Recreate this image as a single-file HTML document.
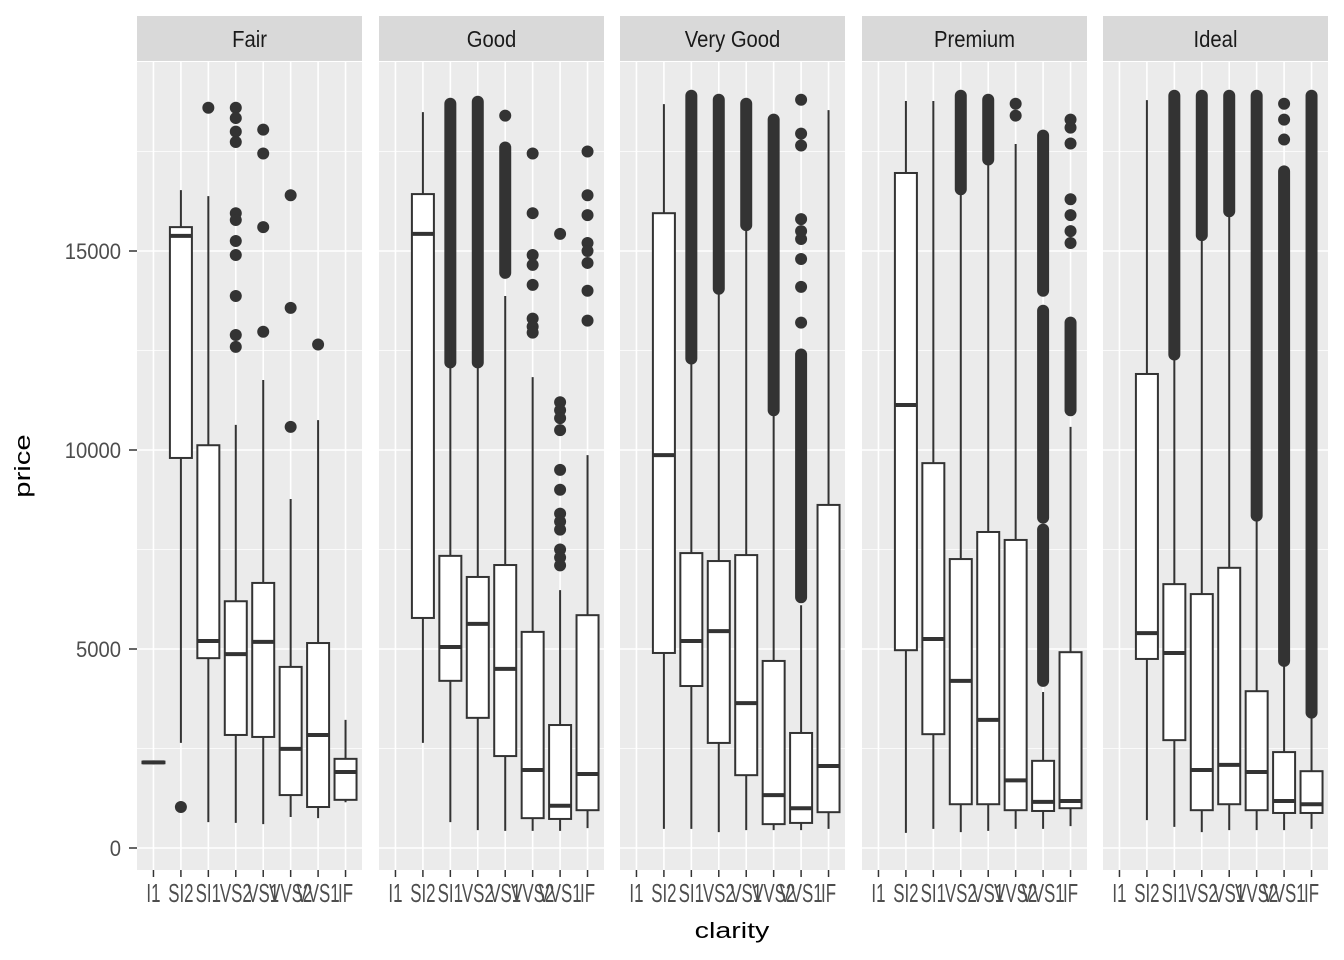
<!DOCTYPE html>
<html><head><meta charset="utf-8"><style>
html,body{margin:0;padding:0;background:#fff;}
svg{display:block;font-family:"Liberation Sans",sans-serif;}
</style></head><body>
<svg id="chart" width="1344" height="960">
<text transform="translate(732,938) scale(1.3,1)" text-anchor="middle" font-size="22" fill="#000">clarity</text>
<text transform="translate(30,466) rotate(-90) scale(1.33,1)" text-anchor="middle" font-size="22" fill="#000">price</text>
</svg>
<script>
const cuts = ["Fair","Good","Very Good","Premium","Ideal"];
const clarities = ["I1","SI2","SI1","VS2","VS1","VVS2","VVS1","IF"];
const yTicks = [0,5000,10000,15000];
const yTickLabels = ["0","5000","10000","15000"];
// [lowWhisker, q1, median, q3, highWhisker] per cut x clarity
const fairStats = [[2100,2130,2150,2170,2200],[2640,9800,15380,15600,16530],[650,4770,5200,10120,16380],[630,2840,4870,6200,10630],[600,2790,5180,6660,11760],[780,1330,2490,4550,8770],[750,1030,2840,5150,10750],[1150,1210,1910,2240,3220]];
const goodStats = [null,[2640,5780,15430,16430,18490],[650,4200,5050,7340,12760],[450,3270,5630,6810,12140],[430,2310,4500,7110,13870],[430,750,1960,5430,11830],[430,730,1060,3090,6480],[500,950,1860,5850,9870]];
const veryGoodStats = [null,[480,4900,9870,15950,18690],[480,4070,5200,7410,12210],[400,2640,5450,7210,14020],[450,1830,3640,7360,15580],[450,600,1330,4700,11000],[450,630,1000,2890,6100],[480,900,2060,8620,18540]];
const premiumStats = [null,[380,4970,11130,16960,18770],[480,2860,5250,9670,18770],[400,1100,4200,7260,16530],[430,1100,3220,7940,17260],[480,950,1700,7740,17690],[480,930,1160,2190,3920],[550,1000,1180,4920,10580]];
const idealStats = [null,[700,4750,5400,11910,18790],[530,2710,4900,6630,12390],[400,950,1960,6380,15380],[450,1100,2090,7040,15880],[450,950,1910,3940,8290],[450,880,1180,2410,4670],[480,880,1100,1930,3340]];
// individual outliers
const fairOut = [[],[1030],[18600],[18600,18340,18000,17740,15950,15780,15250,14900,13870,12890,12590],[18050,17450,15600,12970],[16400,13570,10580],[12650],[]];
const goodOut = [[],[],[],[],[18400],[17450,15950,14900,14650,14150,13300,13100,12950],[15430,11200,11000,10800,10500,9500,9000,8400,8200,8000,7500,7300,7100],[17500,16400,15900,15200,15000,14700,14000,13250]];
const veryGoodOut = [[],[],[],[],[],[],[13200,14100,14800,15300,15500,15800,17650,17950,18800],[]];
const premiumOut = [[],[],[],[],[],[18400,18700],[],[15200,15500,15900,16300,17700,18100,18300]];
const idealOut = [[],[],[],[],[],[],[17800,18300,18700],[]];
// dense outlier runs [from,to]
const fairDense = [[],[],[],[],[],[],[],[]];
const goodDense = [[],[],[[12200,18700]],[[12200,18750]],[[14450,17600]],[],[],[]];
const veryGoodDense = [[],[],[[12300,18900]],[[14050,18800]],[[15650,18700]],[[11000,18300]],[[6300,12400]],[]];
const premiumDense = [[],[],[],[[16550,18900]],[[17300,18800]],[],[[4200,8000],[8300,13500],[14000,17900]],[[11000,13200]]];
const idealDense = [[],[],[[12400,18900]],[[15400,18900]],[[16000,18900]],[[8350,18900]],[[4700,17000]],[[3400,18900]]];

const allStats=[fairStats,goodStats,veryGoodStats,premiumStats,idealStats];
const allOut=[fairOut,goodOut,veryGoodOut,premiumOut,idealOut];
const allDense=[fairDense,goodDense,veryGoodDense,premiumDense,idealDense];

const NS="http://www.w3.org/2000/svg";
const svg=document.getElementById('chart');
const panelLefts=[137,379,620,862,1103], panelW=225, pTop=62, pBot=870;
const yScale=v=>848-v*0.0398;
const xScale=(p,i)=>panelLefts[p]+(i+0.6)*panelW/8.2;
function mk(tag,attrs,parent){const e=document.createElementNS(NS,tag);for(const k in attrs)e.setAttribute(k,attrs[k]);(parent||svg).appendChild(e);return e;}

// y axis ticks
yTicks.forEach((t,i)=>{
  const tl=mk('line',{x1:129,x2:137,y1:yScale(t),y2:yScale(t),stroke:'#333','stroke-width':1.5});
  
  
  const tx=mk('text',{transform:'translate(121,'+(yScale(t)+8)+') scale(0.92,1)','text-anchor':'end','font-size':22,fill:'#4d4d4d'});
  tx.textContent=yTickLabels[i];
  
  
});

cuts.forEach((cut,p)=>{
  const g=mk('g',{});
  
  
  const L=panelLefts[p];
  mk('rect',{x:L,y:16,width:panelW,height:45,fill:'#d9d9d9'},g);
  const st=mk('text',{transform:'translate('+(L+panelW/2)+',47) scale(0.88,1)','text-anchor':'middle','font-size':23,fill:'#1a1a1a'},g);
  st.textContent=cut;
  
  
  mk('rect',{x:L,y:pTop,width:panelW,height:pBot-pTop,fill:'#ebebeb'},g);
  [2500,7500,12500,17500].forEach(v=>mk('line',{x1:L,x2:L+panelW,y1:yScale(v),y2:yScale(v),stroke:'#fff','stroke-width':0.8},g));
  yTicks.forEach(v=>mk('line',{x1:L,x2:L+panelW,y1:yScale(v),y2:yScale(v),stroke:'#fff','stroke-width':1.6},g));
  clarities.forEach((c,i)=>{
    const x=xScale(p,i);
    mk('line',{x1:x,x2:x,y1:pTop,y2:pBot,stroke:'#fff','stroke-width':1.6},g);
    mk('line',{x1:x,x2:x,y1:pBot,y2:pBot+7,stroke:'#333','stroke-width':1.5},g);
    const xl=mk('text',{transform:'translate('+x+',902) scale(0.65,1)','text-anchor':'middle','font-size':26,fill:'#4d4d4d'},g);
    xl.textContent=c;
    
    
  });
  clarities.forEach((c,i)=>{
    const x=xScale(p,i), s=allStats[p][i];
    allDense[p][i].forEach(r=>{
      const d=mk('line',{x1:x,x2:x,y1:yScale(r[0]),y2:yScale(r[1]),stroke:'#333','stroke-width':12,'stroke-linecap':'round'},g);
      
      
    });
    allOut[p][i].forEach(v=>{
      const o=mk('circle',{cx:x,cy:yScale(v),r:6,fill:'#333'},g);
      
      
    });
    if(!s) return;
    const bw=22;
    const b=mk('g',{},g);
    
    
    mk('line',{x1:x,x2:x,y1:yScale(s[0]),y2:yScale(s[4]),stroke:'#333','stroke-width':2},b);
    mk('rect',{x:x-bw/2,y:yScale(s[3]),width:bw,height:Math.max(0.1,yScale(s[1])-yScale(s[3])),fill:'#fff',stroke:'#333','stroke-width':2},b);
    mk('line',{x1:x-bw/2,x2:x+bw/2,y1:yScale(s[2]),y2:yScale(s[2]),stroke:'#333','stroke-width':4},b);
  });
});
</script>
</body></html>
